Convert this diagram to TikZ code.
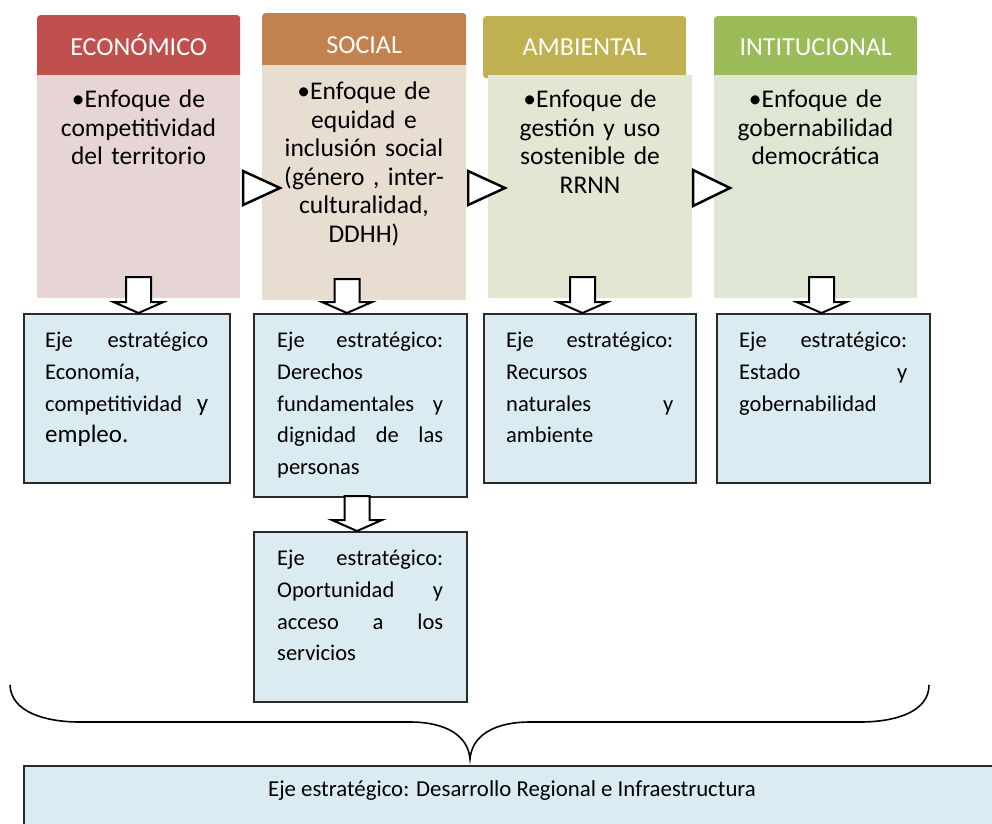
\documentclass[tikz,border=0pt]{standalone}
\usepackage{fontspec}
\setmainfont{Carlito}
\usetikzlibrary{calc}

\definecolor{econred}{HTML}{C0504D}
\definecolor{econpink}{HTML}{E7D4D4}
\definecolor{socbrown}{HTML}{C2824F}
\definecolor{socsand}{HTML}{E7DDD1}
\definecolor{ambolive}{HTML}{BFB152}
\definecolor{ambpale}{HTML}{E5E5D4}
\definecolor{insgreen}{HTML}{9BBB59}
\definecolor{inspale}{HTML}{DFE7D4}
\definecolor{ejeblue}{HTML}{DAEBF1}
\definecolor{ejeline}{HTML}{2A2A2A}

\tikzset{
 headbox/.style={anchor=north west, rounded corners=3pt, text=white,
   font=\fontsize{26}{30}\selectfont, text height=17pt, text depth=0pt},
 bodybox/.style={anchor=north west, inner sep=0pt},
 enfoquetxt/.style={anchor=north, align=center, text width=200pt, inner sep=0pt,
   font=\fontsize{25.5}{28.5}\selectfont},
 ejebox/.style={anchor=north west, draw=ejeline, line width=2pt, fill=ejeblue, inner sep=0pt},
 ejetxt/.style={anchor=north west, align=left, inner sep=0pt,
   font=\fontsize{22.5}{31.7}\selectfont},
 blkarrow/.style={draw=black, line width=2pt, fill=white, line join=miter},
 tri/.style={draw=black, line width=2.5pt, fill=white, line join=miter}
}

% hollow block arrow from a top point down to the top of a box
\newcommand{\blockdown}[2]{%
 \draw[blkarrow] ($(#1)+(-12.5,0)$) -- ($(#1)+(12.5,0)$)
   -- ($(#1 |- #2.north)+(12.5,-11)$) -- ($(#1 |- #2.north)+(25,-11)$)
   -- (#1 |- #2.north) -- ($(#1 |- #2.north)+(-25,-11)$)
   -- ($(#1 |- #2.north)+(-12.5,-11)$) -- cycle;}

\begin{document}
\begin{tikzpicture}[x=1pt,y=-1pt]
 \useasboundingbox (0,0) rectangle (992,823);
 \clip (0,0) rectangle (992,823);

 %economico
 \node[headbox, fill=econred, minimum width=203pt, minimum height=64pt] (econhead) at (37,15) {ECONÓMICO};
 \node[bodybox, fill=econpink, minimum width=203pt, minimum height=223pt] (econbody) at (37,75) {};
 \node[enfoquetxt] (econtxt) at (138.5,90) {•Enfoque de\\competitividad\\del territorio};

 %social
 \node[headbox, fill=socbrown, minimum width=204pt, minimum height=64pt] (sochead) at (262,13) {SOCIAL};
 \node[bodybox, fill=socsand, minimum width=204pt, minimum height=235pt] (socbody) at (262,65) {};
 \node[enfoquetxt] (soctxt) at (364,82) {•Enfoque de\\equidad e\\inclusión social\\(género , inter-\\culturalidad,\\DDHH)};

 %ambiental
 \node[headbox, fill=ambolive, minimum width=203pt, minimum height=62pt] (ambhead) at (483,16) {AMBIENTAL};
 \node[bodybox, fill=ambpale, minimum width=204pt, minimum height=223pt] (ambbody) at (488,75) {};
 \node[enfoquetxt] (ambtxt) at (590,90) {•Enfoque de\\gestión y uso\\sostenible de\\RRNN};

 %institucional
 \node[headbox, fill=insgreen, minimum width=203pt, minimum height=62pt] (inshead) at (714,16) {INTITUCIONAL};
 \node[bodybox, fill=inspale, minimum width=203pt, minimum height=223pt] (insbody) at (714,75) {};
 \node[enfoquetxt] (instxt) at (815.5,90) {•Enfoque de\\gobernabilidad\\democrática};

 %triangles between the stages
 \draw[tri] (243,171) -- (280,188) -- (243,205) -- cycle;
 \draw[tri] (468,171) -- (505,188) -- (468,205) -- cycle;
 \draw[tri] (693,170) -- (730,188) -- (693,206) -- cycle;

 %ejes estrategicos
 \node[ejebox, minimum width=206pt, minimum height=169pt] (econeje) at (23,313) {};
 \node[ejebox, minimum width=213pt, minimum height=183pt] (soceje) at (253,313) {};
 \node[ejebox, minimum width=213pt, minimum height=170pt] (socejeb) at (253,531) {};
 \node[ejebox, minimum width=212pt, minimum height=169pt] (ambeje) at (483,313) {};
 \node[ejebox, minimum width=213pt, minimum height=169pt] (inseje) at (716,313) {};
 \node[ejebox, minimum width=990pt, minimum height=90pt] (regeje) at (23,765) {};

 \node[ejetxt, text width=163pt] (econejetxt) at (45,332)
   {Eje\hfill estratégico\\Economía,\\competitividad\hfill {\fontsize{25}{31.7}\selectfont y}\\{\fontsize{25}{31.7}\selectfont empleo.}};
 \node[ejetxt, text width=166pt] (socejetxt) at (277,332)
   {Eje\hfill estratégico:\\Derechos\\fundamentales\hfill y\\dignidad\hfill de\hfill las\\personas};
 \node[ejetxt, text width=166pt] (socejebtxt) at (277,550)
   {Eje\hfill estratégico:\\Oportunidad\hfill y\\acceso\hfill a\hfill los\\servicios};
 \node[ejetxt, text width=167pt] (ambejetxt) at (506,332)
   {Eje\hfill estratégico:\\Recursos\\naturales\hfill y\\ambiente};
 \node[ejetxt, text width=168pt] (insejetxt) at (739,332)
   {Eje\hfill estratégico:\\Estado\hfill y\\gobernabilidad};
 \node[font=\fontsize{22.8}{26}\selectfont, inner sep=0pt] (regtxt) at (512,791)
   {Eje estratégico: Desarrollo Regional e Infraestructura};

 %down arrows
 \coordinate (econarr) at (138.5,277);
 \coordinate (socarr) at (347,279);
 \coordinate (socarrb) at (357,496);
 \coordinate (ambarr) at (582.5,277);
 \coordinate (insarr) at (821.5,277);
 \blockdown{econarr}{econeje}
 \blockdown{socarr}{soceje}
 \blockdown{socarrb}{socejeb}
 \blockdown{ambarr}{ambeje}
 \blockdown{insarr}{inseje}

 %brace over the last eje
 \draw[line width=1.6pt] (10,685) .. controls (11,712) and (45,722) .. (80,722) -- (410,722)
   .. controls (445,722) and (468,735) .. (470,759)
   .. controls (472,735) and (495,722) .. (530,722) -- (860,722)
   .. controls (895,722) and (929,712) .. (929,685);
\end{tikzpicture}
\end{document}
